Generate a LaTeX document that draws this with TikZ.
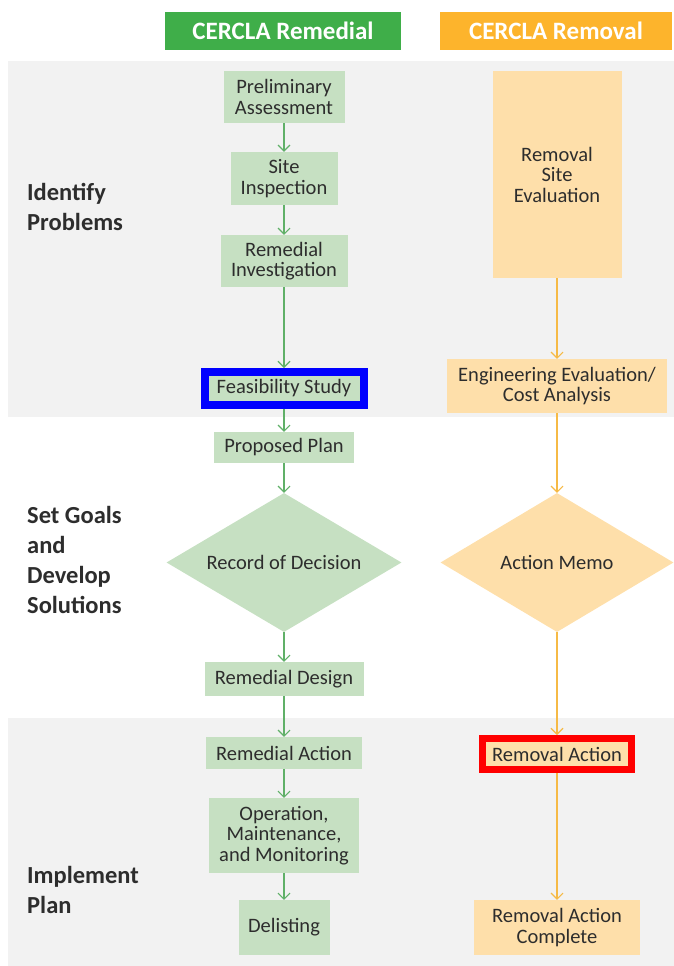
\documentclass[tikz,border=0pt]{standalone}
\usepackage{fontspec}
\setmainfont{Carlito}
\usepackage{tikz}
\usetikzlibrary{shapes.geometric,arrows.meta}

\definecolor{hdrgreen}{RGB}{63,174,73}
\definecolor{hdrorange}{RGB}{253,180,44}
\definecolor{bandgray}{RGB}{242,242,242}
\definecolor{boxgreen}{RGB}{198,224,194}
\definecolor{boxorange}{RGB}{254,223,170}
\definecolor{linegreen}{RGB}{96,176,104}
\definecolor{lineorange}{RGB}{246,186,70}
\definecolor{txtgray}{RGB}{45,45,45}

\begin{document}
\begin{tikzpicture}[x=1pt, y=-1pt,
  hdr/.style={text=white, inner sep=0pt, minimum height=38pt, font=\fontsize{25}{28}\selectfont\bfseries},
  stage/.style={anchor=west, align=left, inner sep=0pt, text=txtgray, font=\fontsize{24.5}{30}\selectfont\bfseries},
  gbox/.style={fill=boxgreen, text=txtgray, align=center, inner sep=0pt, font=\fontsize{20.5}{20.5}\selectfont},
  obox/.style={gbox, fill=boxorange},
  gdia/.style={gbox, diamond, aspect=1.7},
  odia/.style={gdia, fill=boxorange},
  garrow/.style={draw=linegreen, line width=1.1pt, -{Straight Barb[length=6pt,width=12pt]}},
  oarrow/.style={garrow, draw=lineorange}]

\useasboundingbox (0,0) rectangle (674,966);

% Bands
\fill[bandgray] (8,61) rectangle (674,417);
\fill[bandgray] (8,718) rectangle (674,966);

% Headers
\node[hdr, fill=hdrgreen, minimum width=236pt] (remedial) at (283,31) {CERCLA Remedial};
\node[hdr, fill=hdrorange, minimum width=232pt] (removal) at (556,31) {CERCLA Removal};

% Stage labels
\node[stage] (identify) at (27,207) {Identify\\Problems};
\node[stage] (goals) at (27,560) {Set Goals\\and\\Develop\\Solutions};
\node[stage] (implement) at (27,890) {Implement\\Plan};

% Remedial nodes
\node[gbox, minimum width=121pt, minimum height=52pt] (pa) at (284,97) {Preliminary\\Assessment};
\node[gbox, minimum width=107pt, minimum height=53pt] (si) at (284,178.5) {Site\\Inspection};
\node[gbox, minimum width=127pt, minimum height=52pt] (ri) at (284,261) {Remedial\\Investigation};
\node[gbox, draw=blue, line width=8pt, outer sep=4pt, minimum width=159pt, minimum height=33pt] (fs) at (284,388.5) {Feasibility Study};
\node[gbox, minimum width=140pt, minimum height=31pt] (pp) at (284,447.5) {Proposed Plan};
\node[gdia, minimum width=235pt, minimum height=139pt] (rod) at (284,562.5) {Record of Decision};
\node[gbox, minimum width=159pt, minimum height=34pt] (rd) at (284,679) {Remedial Design};
\node[gbox, minimum width=156pt, minimum height=32pt] (ra) at (284,753) {Remedial Action};
\node[gbox, minimum width=150pt, minimum height=75pt] (omm) at (284,835.5) {Operation,\\Maintenance,\\and Monitoring};
\node[gbox, minimum width=91pt, minimum height=55pt] (del) at (284,927.5) {Delisting};

% Removal nodes
\node[obox, minimum width=129pt, minimum height=207pt] (rse) at (557,174.5) {Removal\\Site\\Evaluation};
\node[obox, minimum width=220pt, minimum height=54pt] (eeca) at (557,386) {Engineering Evaluation/\\Cost Analysis};
\node[odia, minimum width=233pt, minimum height=139pt] (memo) at (557,562.5) {Action Memo};
\node[obox, draw=red, line width=7pt, outer sep=3.5pt, minimum width=149pt, minimum height=31pt] (rema) at (557,754) {Removal Action};
\node[obox, minimum width=166pt, minimum height=55pt] (rac) at (557,927.5) {Removal Action\\Complete};

% Connections
\foreach \a/\b in {pa/si, si/ri, ri/fs, fs/pp, pp/rod, rod/rd, rd/ra, ra/omm, omm/del}
    \draw[garrow] (\a) -- (\b);
\foreach \a/\b in {rse/eeca, eeca/memo, memo/rema, rema/rac}
    \draw[oarrow] (\a) -- (\b);
\end{tikzpicture}
\end{document}
